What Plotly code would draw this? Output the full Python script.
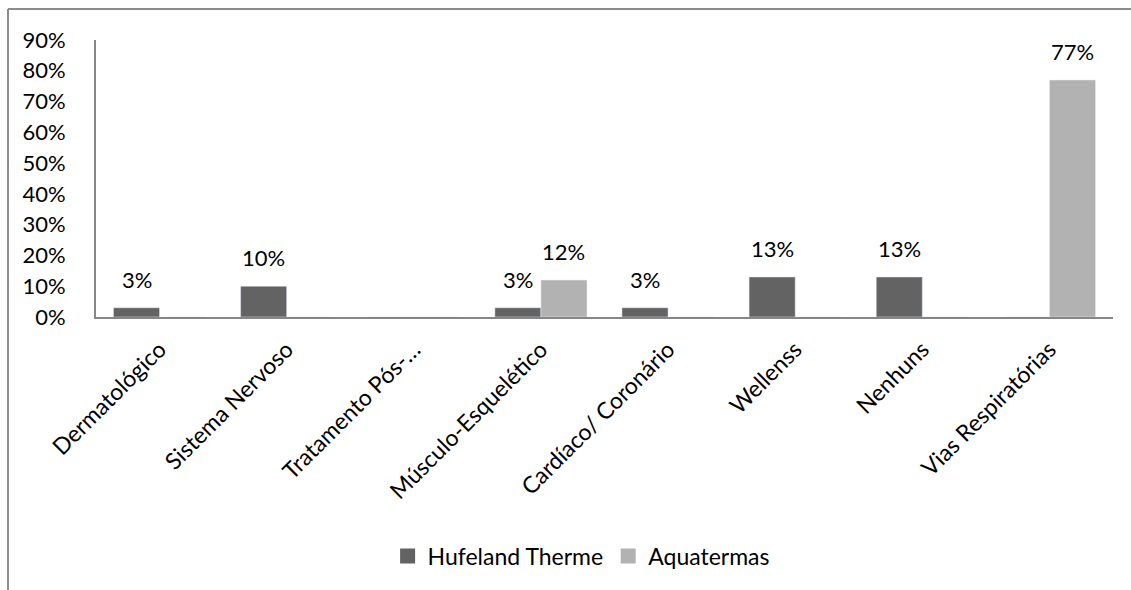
import plotly.graph_objects as go

categories = [
    "Dermatológico", "Sistema Nervoso", "Tratamento Pós-…", "Músculo-Esquelético",
    "Cardíaco/ Coronário", "Wellenss", "Nenhuns", "Vias Respiratórias",
]
hufeland = [0.03, 0.10, 0.0, 0.03, 0.03, 0.13, 0.13, 0.0]
aquatermas = [0.0, 0.0, 0.0, 0.12, 0.0, 0.0, 0.0, 0.77]
series_names = ["Hufeland Therme", "Aquatermas"]
y_ticks = [0, 0.1, 0.2, 0.3, 0.4, 0.5, 0.6, 0.7, 0.8, 0.9]

FONT = "Lato, 'Open Sans', sans-serif"
NUM_SIZE = 22
WORD_SIZE = 23
W, H = 1131, 590
ML, MR, MT, MB = 96, 18, 40, 273
COLORS = ["#636363", "#b2b2b2"]

fig = go.Figure()
for name, vals, color in zip(series_names, [hufeland, aquatermas], COLORS):
    fig.add_trace(go.Bar(x=categories, y=vals, name=name, marker_color=color,
                         showlegend=False))
    # legend entry with a larger square swatch
    fig.add_trace(go.Scatter(x=[None], y=[None], mode="markers", name=name,
                             marker=dict(symbol="square", size=15, color=color)))

# value labels above each non-zero bar
pw, ph = W - ML - MR, H - MT - MB
bar_px = pw / len(categories) * (1 - 0.275) / 2
for offset, vals in zip([-bar_px / 2, bar_px / 2], [hufeland, aquatermas]):
    for cat, v in zip(categories, vals):
        if v > 0:
            fig.add_annotation(x=cat, y=v, xref="x", yref="y", text=f"{round(v * 100)}%",
                               showarrow=False, xshift=offset, yanchor="bottom", yshift=13,
                               font=dict(size=NUM_SIZE, color="#000000", family=FONT))

# outer chart frame (top and left edges), positioned in paper units
fx = (8 - ML) / pw
fy = (H - MB - 9) / ph
fig.add_shape(type="line", xref="paper", yref="paper", x0=fx, x1=1.2, y0=fy, y1=fy,
              line=dict(color="#8c8c8c", width=2))
fig.add_shape(type="line", xref="paper", yref="paper", x0=fx, x1=fx, y0=fy, y1=-2,
              line=dict(color="#8c8c8c", width=2))

fig.update_layout(
    width=W, height=H,
    margin=dict(l=ML, r=MR, t=MT, b=MB),
    paper_bgcolor="white", plot_bgcolor="white",
    barmode="group", bargap=0.275, bargroupgap=0,
    font=dict(family=FONT, size=WORD_SIZE, color="#000000"),
    showlegend=True,
    legend=dict(orientation="h", x=0.477, xanchor="center", y=-0.863, yanchor="middle",
                font=dict(size=WORD_SIZE), itemwidth=30),
    xaxis=dict(tickangle=-45, showline=True, linecolor="#868686", linewidth=2,
               ticks="", tickfont=dict(size=WORD_SIZE), automargin=False,
               ticklabelstandoff=8),
    yaxis=dict(range=[0, 0.9], tickvals=y_ticks, tickformat=".0%", showgrid=False,
               showline=True, linecolor="#868686", linewidth=2, ticks="",
               ticklabelstandoff=24, zeroline=False, tickfont=dict(size=NUM_SIZE),
               automargin=False),
)

fig.write_html("out.html")
